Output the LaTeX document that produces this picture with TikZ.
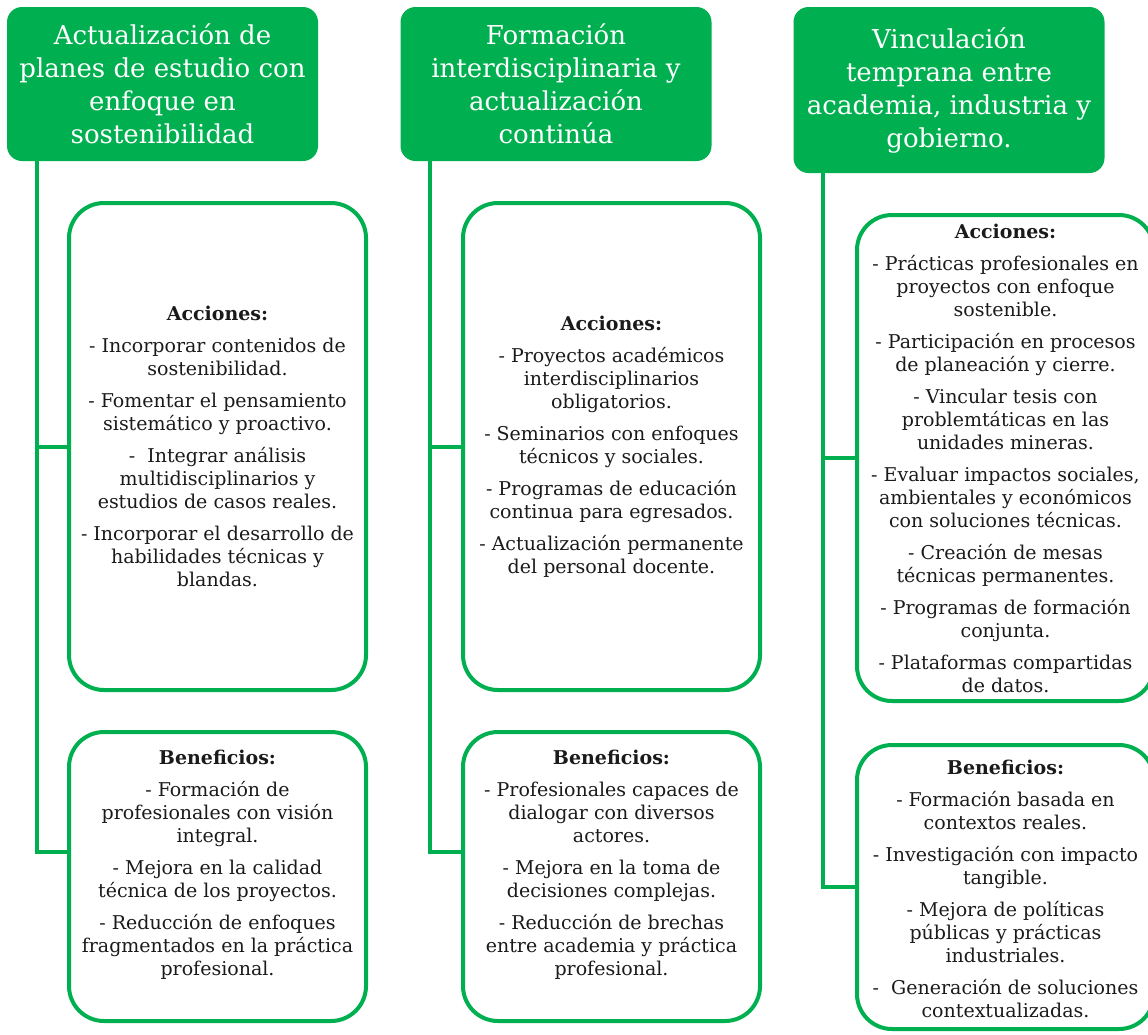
\documentclass[tikz,border=0pt]{standalone}
\usepackage{fontspec}
\setmainfont{DejaVu Serif}
\usetikzlibrary{positioning}
\definecolor{ejeVerde}{RGB}{0,176,80}
\definecolor{textoNegro}{RGB}{26,26,26}

\begin{document}
\begin{tikzpicture}[x=1pt,y=-1pt,
    eje/.style={fill=ejeVerde, rounded corners=15pt, text=white, align=center,
      font=\fontsize{26}{33}\selectfont, minimum width=311pt, inner sep=0pt},
    caja/.style={draw=ejeVerde, line width=4pt, rounded corners=35pt,
      minimum width=297pt, inner sep=0pt},
    texto/.style={align=center, text=textoNegro, inner sep=0pt,
      font=\fontsize{19}{23}\selectfont},
    rama/.style={ejeVerde, line width=4pt}]
  \useasboundingbox (0,0) rectangle (1148,1034);

  % encabezados
  \node[eje, minimum height=154pt] (eje1) at (162.5,84) {Actualización de\\planes de estudio con\\enfoque en\\sostenibilidad};
  \node[eje, minimum height=154pt] (eje2) at (556,84) {Formación\\interdisciplinaria y\\actualización\\continúa};
  \node[eje, minimum height=166pt] (eje3) at (949,90) {Vinculación\\temprana entre\\academia, industria y\\gobierno.};

  % cajas
  \node[caja, minimum height=487pt] (acc1) at (217.5,446.5) {};
  \node[caja, minimum height=289pt] (ben1) at (217.5,876.5) {};
  \node[caja, minimum height=487pt] (acc2) at (611.5,446.5) {};
  \node[caja, minimum height=289pt] (ben2) at (611.5,876.5) {};
  \node[caja, minimum height=486pt] (acc3) at (1005.5,458) {};
  \node[caja, minimum height=284pt] (ben3) at (1005.5,887) {};

  % textos
  \node[texto] (tacc1) at (acc1.center) {\textbf{Acciones:}\\[9pt]
    - Incorporar contenidos de\\sostenibilidad.\\[9pt]
    - Fomentar el pensamiento\\sistemático y proactivo.\\[9pt]
    -~ Integrar análisis\\multidisciplinarios y\\estudios de casos reales.\\[9pt]
    - Incorporar el desarrollo de\\habilidades técnicas y\\blandas.};
  \node[texto, anchor=north, below=20pt of ben1.north] (tben1) {\textbf{Beneficios:}\\[9pt]
    - Formación de\\profesionales con visión\\integral.\\[9pt]
    - Mejora en la calidad\\técnica de los proyectos.\\[9pt]
    - Reducción de enfoques\\fragmentados en la práctica\\profesional.};
  \node[texto] (tacc2) at (acc2.center) {\textbf{Acciones:}\\[9pt]
    - Proyectos académicos\\interdisciplinarios\\obligatorios.\\[9pt]
    - Seminarios con enfoques\\técnicos y sociales.\\[9pt]
    - Programas de educación\\continua para egresados.\\[9pt]
    - Actualización permanente\\del personal docente.};
  \node[texto, anchor=north, below=20pt of ben2.north] (tben2) {\textbf{Beneficios:}\\[9pt]
    - Profesionales capaces de\\dialogar con diversos\\actores.\\[9pt]
    - Mejora en la toma de\\decisiones complejas.\\[9pt]
    - Reducción de brechas\\entre academia y práctica\\profesional.};
  \node[texto] (tacc3) at (acc3.center) {\textbf{Acciones:}\\[9pt]
    - Prácticas profesionales en\\proyectos con enfoque\\sostenible.\\[9pt]
    - Participación en procesos\\de planeación y cierre.\\[9pt]
    - Vincular tesis con\\problemtáticas en las\\unidades mineras.\\[9pt]
    - Evaluar impactos sociales,\\ambientales y económicos\\con soluciones técnicas.\\[9pt]
    - Creación de mesas\\técnicas permanentes.\\[9pt]
    - Programas de formación\\conjunta.\\[9pt]
    - Plataformas compartidas\\de datos.};
  \node[texto] (tben3) at ([yshift=-2pt]ben3.center) {\textbf{Beneficios:}\\[9pt]
    - Formación basada en\\contextos reales.\\[9pt]
    - Investigación con impacto\\tangible.\\[9pt]
    - Mejora de políticas\\públicas y prácticas\\industriales.\\[9pt]
    -~ Generación de soluciones\\contextualizadas.};

  % conectores
  \foreach \i in {1,2,3} {
    \coordinate (raiz\i) at ([xshift=30pt]eje\i.south west);
    \draw[rama] (raiz\i) |- (acc\i.west);
  }
  \draw[rama] (raiz1) |- ([yshift=25pt]ben1.west);
  \draw[rama] (raiz2) |- ([yshift=25pt]ben2.west);
  \draw[rama] (raiz3) |- (ben3.west);
\end{tikzpicture}
\end{document}
